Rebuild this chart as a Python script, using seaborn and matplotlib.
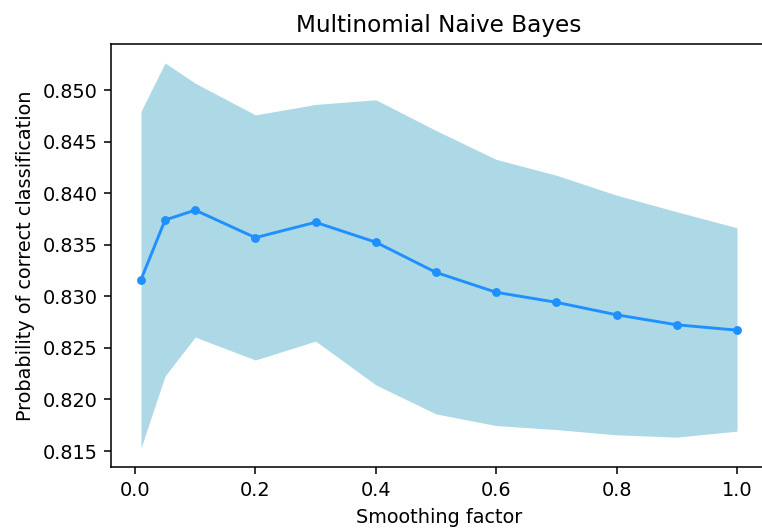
import matplotlib
matplotlib.use("Agg")
import matplotlib.pyplot as plt
import seaborn as sns
import pandas as pd

alpha = [0.01, 0.05, 0.1, 0.2, 0.3, 0.4, 0.5, 0.6, 0.7, 0.8, 0.9, 1.0]
mean_acc = [0.83161, 0.83740, 0.83836, 0.83569, 0.83718, 0.83525,
            0.83232, 0.83039, 0.82942, 0.82821, 0.82724, 0.82672]
upper_acc = [0.84794, 0.85263, 0.85067, 0.84759, 0.84861, 0.84906,
             0.84608, 0.84328, 0.84174, 0.83981, 0.83820, 0.83665]
lower_acc = [0.81529, 0.82229, 0.82605, 0.82383, 0.82566, 0.82142,
             0.81860, 0.81747, 0.81708, 0.81657, 0.81635, 0.81693]

df = pd.DataFrame({"alpha": alpha, "mean": mean_acc,
                   "upper": upper_acc, "lower": lower_acc})

DPI = 139
fig = plt.figure(figsize=(762 / DPI, 532 / DPI), dpi=DPI)
ax = fig.add_axes([111.2 / 762, 1 - 467.3 / 532, 655.6 / 762, 423.6 / 532])

ax.fill_between(df["alpha"], df["lower"], df["upper"], color="lightblue", linewidth=0)
sns.lineplot(data=df, x="alpha", y="mean", ax=ax, color="dodgerblue",
             marker="o", markersize=4.6, markeredgewidth=0, linewidth=1.5)

ax.set_title("Multinomial Naive Bayes")
ax.set_xlabel("Smoothing factor")
ax.set_ylabel("Probability of correct classification")
ax.set_yticks([0.815, 0.820, 0.825, 0.830, 0.835, 0.840, 0.845, 0.850])
ax.set_yticklabels(["0.815", "0.820", "0.825", "0.830", "0.835", "0.840", "0.845", "0.850"])

fig.savefig("out.png", dpi=DPI)
